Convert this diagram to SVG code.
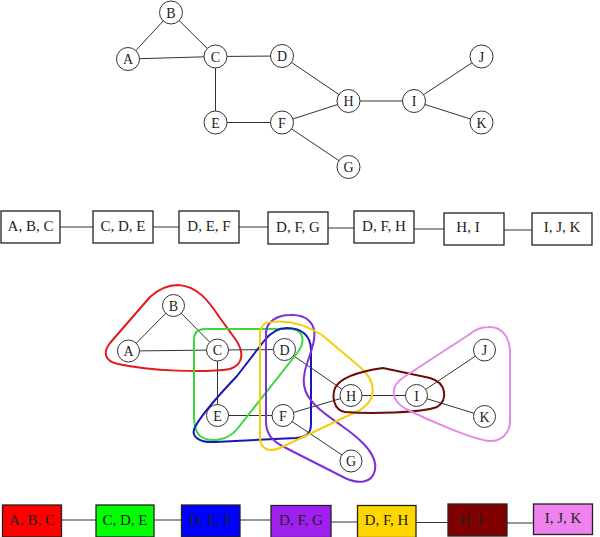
<svg xmlns="http://www.w3.org/2000/svg" width="600" height="537" viewBox="0 0 600 537">
<style>
.edge{stroke:#333;stroke-width:1;fill:none}
.node circle{fill:#fff;stroke:#333;stroke-width:1}
.node text{font-family:"Liberation Serif","DejaVu Serif",serif;font-size:14px;fill:#222;text-anchor:middle}
.box rect{stroke:#222;stroke-width:1.3;fill:#fff}
.box text{font-family:"Liberation Serif","DejaVu Serif",serif;font-size:15px;fill:#222;text-anchor:middle}
.hull{fill:none;stroke-width:2;stroke-linejoin:round}
</style>
<rect width="600" height="537" fill="#fff"/>

<!-- Top graph connectors -->
<g id="connectors-top">
<line class="edge" x1="128" y1="59" x2="171" y2="12.5"/>
<line class="edge" x1="171" y1="12.5" x2="215.5" y2="56.5"/>
<line class="edge" x1="128" y1="59" x2="215.5" y2="56.5"/>
<line class="edge" x1="215.5" y1="56.5" x2="282" y2="56"/>
<line class="edge" x1="215.5" y1="56.5" x2="215.5" y2="122.5"/>
<line class="edge" x1="282" y1="56" x2="348.5" y2="101"/>
<line class="edge" x1="215.5" y1="122.5" x2="282" y2="122.5"/>
<line class="edge" x1="282" y1="122.5" x2="348.5" y2="101"/>
<line class="edge" x1="282" y1="122.5" x2="348.5" y2="167"/>
<line class="edge" x1="348.5" y1="101" x2="414" y2="101"/>
<line class="edge" x1="414" y1="101" x2="481.5" y2="56.5"/>
<line class="edge" x1="414" y1="101" x2="481.5" y2="122.5"/>
</g>
<g id="top-A" class="node"><circle cx="128" cy="59" r="11.5"/><text x="128" y="64">A</text></g>
<g id="top-B" class="node"><circle cx="171" cy="12.5" r="11.5"/><text x="171" y="17.5">B</text></g>
<g id="top-C" class="node"><circle cx="215.5" cy="56.5" r="11.5"/><text x="215.5" y="61.5">C</text></g>
<g id="top-D" class="node"><circle cx="282" cy="56" r="11.5"/><text x="282" y="61">D</text></g>
<g id="top-E" class="node"><circle cx="215.5" cy="122.5" r="11.5"/><text x="215.5" y="127.5">E</text></g>
<g id="top-F" class="node"><circle cx="282" cy="122.5" r="11.5"/><text x="282" y="127.5">F</text></g>
<g id="top-G" class="node"><circle cx="348.5" cy="167" r="11.5"/><text x="348.5" y="172">G</text></g>
<g id="top-H" class="node"><circle cx="348.5" cy="101" r="11.5"/><text x="348.5" y="106">H</text></g>
<g id="top-I" class="node"><circle cx="414" cy="101" r="11.5"/><text x="414" y="106">I</text></g>
<g id="top-J" class="node"><circle cx="481.5" cy="56.5" r="11.5"/><text x="481.5" y="61.5">J</text></g>
<g id="top-K" class="node"><circle cx="481.5" cy="122.5" r="11.5"/><text x="481.5" y="127.5">K</text></g>

<!-- Top tree decomposition -->
<g id="connectors-tree1">
<line class="edge" x1="60" y1="227" x2="93" y2="227"/>
<line class="edge" x1="153" y1="227" x2="179" y2="227"/>
<line class="edge" x1="239" y1="227" x2="268" y2="227"/>
<line class="edge" x1="328" y1="228" x2="354" y2="228"/>
<line class="edge" x1="414" y1="229" x2="444" y2="229"/>
<line class="edge" x1="504" y1="230" x2="532" y2="230"/>
</g>
<g id="bag1-ABC" class="box"><rect x="1" y="211" width="59" height="32"/><text x="30.5" y="230.5">A, B, C</text></g>
<g id="bag1-CDE" class="box"><rect x="93" y="211" width="60" height="32"/><text x="123" y="230.5">C, D, E</text></g>
<g id="bag1-DEF" class="box"><rect x="179" y="211" width="60" height="32"/><text x="209" y="230.5">D, E, F</text></g>
<g id="bag1-DFG" class="box"><rect x="268" y="212" width="60" height="32"/><text x="298" y="231.5">D, F, G</text></g>
<g id="bag1-DFH" class="box"><rect x="354" y="211" width="60" height="32"/><text x="384" y="230.5">D, F, H</text></g>
<g id="bag1-HI" class="box"><rect x="444" y="213" width="60" height="32"/><text x="468" y="232">H, I</text></g>
<g id="bag1-IJK" class="box"><rect x="532" y="213" width="60" height="32"/><text x="562" y="232">I, J, K</text></g>

<!-- Bottom graph connectors -->
<g id="connectors-bottom">
<line class="edge" x1="128.5" y1="351" x2="173.5" y2="305.5"/>
<line class="edge" x1="173.5" y1="305.5" x2="217.5" y2="350"/>
<line class="edge" x1="128.5" y1="351" x2="217.5" y2="350"/>
<line class="edge" x1="217.5" y1="350" x2="284.5" y2="349.5"/>
<line class="edge" x1="217.5" y1="350" x2="217.5" y2="415.5"/>
<line class="edge" x1="284.5" y1="349.5" x2="351" y2="395.5"/>
<line class="edge" x1="217.5" y1="415.5" x2="283" y2="415.5"/>
<line class="edge" x1="283" y1="415.5" x2="351" y2="395.5"/>
<line class="edge" x1="283" y1="415.5" x2="351" y2="461"/>
<line class="edge" x1="351" y1="395.5" x2="416.5" y2="395.5"/>
<line class="edge" x1="416.5" y1="395.5" x2="484.5" y2="350"/>
<line class="edge" x1="416.5" y1="395.5" x2="484.5" y2="416.5"/>
</g>
<g id="bot-A" class="node"><circle cx="128.5" cy="351" r="11"/><text x="128.5" y="356">A</text></g>
<g id="bot-B" class="node"><circle cx="173.5" cy="305.5" r="11"/><text x="173.5" y="310.5">B</text></g>
<g id="bot-C" class="node"><circle cx="217.5" cy="350" r="11"/><text x="217.5" y="355">C</text></g>
<g id="bot-D" class="node"><circle cx="284.5" cy="349.5" r="11"/><text x="284.5" y="354.5">D</text></g>
<g id="bot-E" class="node"><circle cx="217.5" cy="415.5" r="11"/><text x="217.5" y="420.5">E</text></g>
<g id="bot-F" class="node"><circle cx="283" cy="415.5" r="11"/><text x="283" y="420.5">F</text></g>
<g id="bot-G" class="node"><circle cx="351" cy="461" r="11"/><text x="351" y="466">G</text></g>
<g id="bot-H" class="node"><circle cx="351" cy="395.5" r="11"/><text x="351" y="400.5">H</text></g>
<g id="bot-I" class="node"><circle cx="416.5" cy="395.5" r="11"/><text x="416.5" y="400.5">I</text></g>
<g id="bot-J" class="node"><circle cx="484.5" cy="350" r="11"/><text x="484.5" y="355">J</text></g>
<g id="bot-K" class="node"><circle cx="484.5" cy="416.5" r="11"/><text x="484.5" y="421.5">K</text></g>

<!-- Hulls -->
<g id="hulls">
<path class="hull" stroke="#e3191b" d="M178,285 C197,286 208,300 220,318 L236,340 C244,352 244,364 230,369 C205,373 150,371 118,364 C104,361 103,352 110,343 L150,297 C160,288 168,285 178,285 Z"/>
<path class="hull" stroke="#3ad83a" d="M205,329 L290,329 C303,329 306,341 298,352 L238,428 C228,441 210,443 200,436 C194,430 194,420 194,412 L194,340 C194,333 198,329 205,329 Z"/>
<path class="hull" stroke="#1818b8" d="M287,328 C302,328 311,336 311,350 L311,424 C311,434 306,437 296,438 L215,442 C200,443 190,437 195,427 C202,414 218,396 237,376 L264,341 C271,332 279,328 287,328 Z"/>
<path class="hull" stroke="#7f2fd6" d="M290,315 C306,314 317,323 314,340 C311,357 302,370 304,385 C306,401 322,412 342,426 C362,440 378,455 375,470 C372,484 358,484 345,478 L286,448 C271,441 266,433 266,421 L266,333 C266,322 277,315 290,315 Z"/>
<path class="hull" stroke="#f2cf0a" d="M272,322 C290,320 306,325 322,335 L360,367 C376,381 378,399 360,410 L282,447 C268,454 260,448 260,437 L260,334 C260,326 265,322 272,322 Z"/>
<path class="hull" stroke="#6e0a0a" d="M383,368 L430,378 C447,383 448,400 437,407 C420,413 370,414 345,412 C333,410 332,396 335,388 C340,378 355,372 383,368 Z"/>
<path class="hull" stroke="#e38ae6" d="M488,327 C501,326 509,336 510,350 L510,420 C510,435 500,442 488,441 C470,438 430,421 406,409 C390,400 390,386 404,377 L470,334 C476,329 482,327 488,327 Z"/>
</g>

<!-- Bottom tree decomposition -->
<g id="connectors-tree2">
<line class="edge" x1="62" y1="520" x2="96" y2="520"/>
<line class="edge" x1="154" y1="520" x2="181" y2="520"/>
<line class="edge" x1="240" y1="520" x2="271" y2="520"/>
<line class="edge" x1="331" y1="522" x2="357" y2="522"/>
<line class="edge" x1="416" y1="522.5" x2="448" y2="522.5"/>
<line class="edge" x1="507" y1="523" x2="533" y2="523"/>
</g>
<g id="bag2-ABC" class="box"><rect x="2.5" y="505" width="59" height="32" style="fill:#ff0000"/><text x="32" y="524.5">A, B, C</text></g>
<g id="bag2-CDE" class="box"><rect x="96" y="505" width="58" height="32" style="fill:#00ff00"/><text x="125" y="524.5">C, D, E</text></g>
<g id="bag2-DEF" class="box"><rect x="181.5" y="505" width="58.5" height="32" style="fill:#0000ff"/><text x="210.5" y="524.5">D, E, F</text></g>
<g id="bag2-DFG" class="box"><rect x="271" y="505.5" width="60" height="32" style="fill:#a020f0"/><text x="301" y="525">D, F, G</text></g>
<g id="bag2-DFH" class="box"><rect x="357.5" y="505.5" width="58.5" height="32" style="fill:#ffd700"/><text x="386.5" y="525">D, F, H</text></g>
<g id="bag2-HI" class="box"><rect x="448" y="504" width="59" height="32" style="fill:#800000"/><text x="471" y="524">H, I</text></g>
<g id="bag2-IJK" class="box"><rect x="533.5" y="504" width="59" height="30.5" style="fill:#ee82ee"/><text x="563" y="523">I, J, K</text></g>
</svg>
